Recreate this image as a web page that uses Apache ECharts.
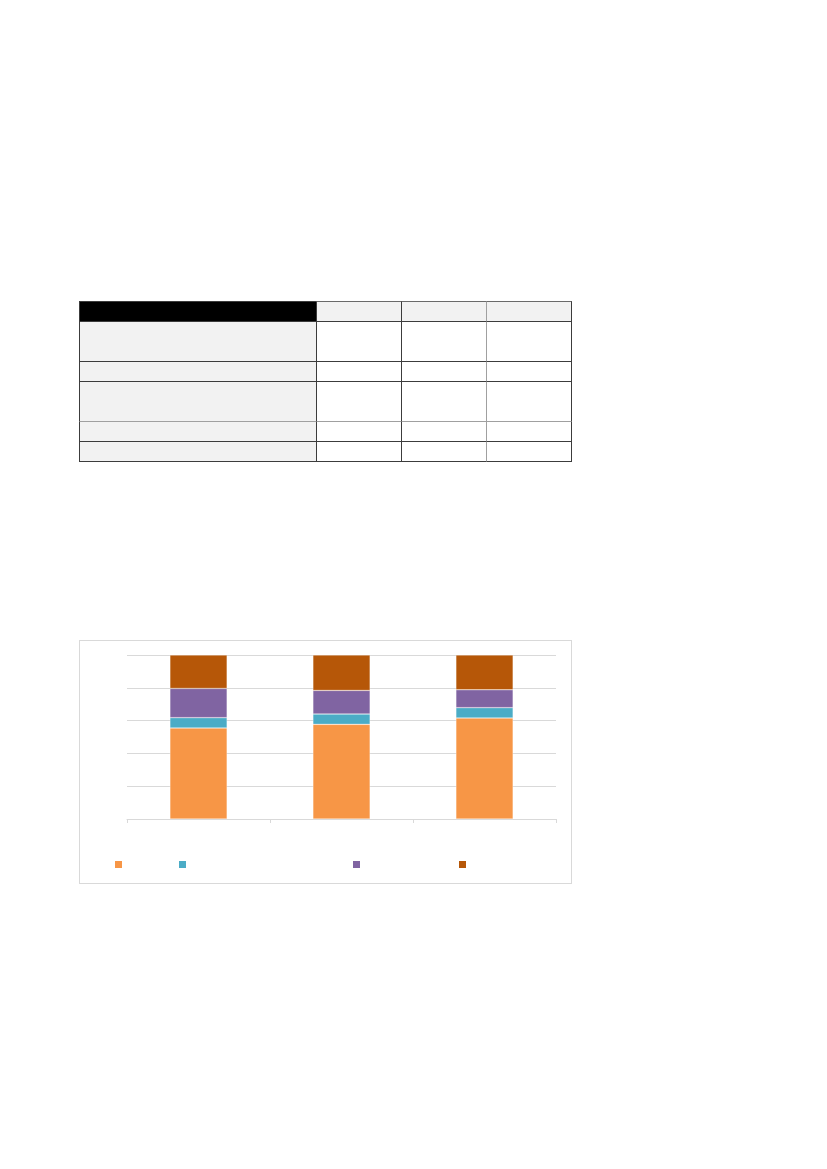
<!DOCTYPE html>
<html>
<head>
<meta charset="utf-8">
<script src="https://cdn.jsdelivr.net/npm/echarts@6/dist/echarts.min.js"></script>
<style>
  html, body { margin: 0; padding: 0; background: #fff; width: 827px; height: 1169px; overflow: hidden; font-family: "Liberation Sans", Arial, sans-serif; }
  .cell { position: absolute; box-sizing: border-box; }
  #chartBox { position: absolute; left: 79px; top: 640px; width: 493px; height: 244px; box-sizing: border-box; border: 1px solid #d9d9d9; background: #fff; }
  #chart { width: 491px; height: 242px; }
</style>
</head>
<body>
<div id="table"></div>
<div id="chartBox"><div id="chart"></div></div>
<script>
// ---- data ----
const categories = ['1', '2', '3'];
const seriesNames = ['S1', 'S2', 'S3', 'S4'];
const orangeValues = [55.5, 57.7, 61.6];
const tealValues = [6.3, 6.3, 6.3];
const purpleValues = [17.8, 14.4, 10.9];
const brownValues = [20.4, 21.6, 21.2];
const yTicks = [0, 20, 40, 60, 80, 100];

// ---- table (empty cells, layout only) ----
const colX = [79, 316, 401, 486, 571];
const rowY = [301, 321, 361, 381, 421, 441, 461];
const tbl = document.getElementById('table');
for (let r = 0; r < rowY.length - 1; r++) {
  for (let c = 0; c < colX.length - 1; c++) {
    const d = document.createElement('div');
    d.className = 'cell';
    d.style.left = colX[c] + 'px';
    d.style.top = rowY[r] + 'px';
    d.style.width = (colX[c + 1] - colX[c] + 1) + 'px';
    d.style.height = (rowY[r + 1] - rowY[r] + 1) + 'px';
    let bg = '#ffffff';
    if (r === 0) bg = (c === 0) ? '#000000' : '#f2f2f2';
    else if (c === 0) bg = '#f2f2f2';
    d.style.background = bg;
    d.style.border = '1px solid #3c3c3c';
    if (c === 3) d.style.borderLeftColor = '#a0a0a0';
    if (r === 4) d.style.borderTopColor = '#a0a0a0';
    if (r === 0 && c > 0) { d.style.borderTopColor = '#6a6a6a'; }
    tbl.appendChild(d);
  }
}

// ---- chart ----
const colors = ['#F79646', '#4BACC6', '#8064A2', '#B65708'];
const values = [orangeValues, tealValues, purpleValues, brownValues];
const chart = echarts.init(document.getElementById('chart'));
const legendLeft = [35, 99, 273, 379];
chart.setOption({
  animation: false,
  grid: { left: 47, top: 14, width: 429, height: 164, containLabel: false },
  legend: seriesNames.map((n, i) => ({
    data: [n],
    left: legendLeft[i],
    top: 220,
    padding: 0,
    itemWidth: 7,
    itemHeight: 7,
    icon: 'rect',
    itemStyle: { borderWidth: 0 },
    formatter: () => '',
    textStyle: { color: 'rgba(0,0,0,0)' },
    selectedMode: false
  })),
  xAxis: {
    type: 'category',
    data: categories,
    boundaryGap: true,
    axisLine: { lineStyle: { color: '#d9d9d9', width: 1 } },
    axisTick: { show: true, length: 4, lineStyle: { color: '#d9d9d9' } },
    axisLabel: { show: false }
  },
  yAxis: {
    type: 'value',
    min: yTicks[0],
    max: yTicks[yTicks.length - 1],
    interval: 20,
    axisLine: { show: false },
    axisTick: { show: false },
    axisLabel: { show: false },
    splitLine: { lineStyle: { color: '#d9d9d9', width: 1 } }
  },
  series: seriesNames.map((n, i) => ({
    name: n,
    type: 'bar',
    stack: 'total',
    barWidth: '40%',
    data: values[i],
    itemStyle: { color: colors[i], borderColor: 'rgba(255,255,255,0.6)', borderWidth: 0.5 }
  }))
});
</script>
</body>
</html>
